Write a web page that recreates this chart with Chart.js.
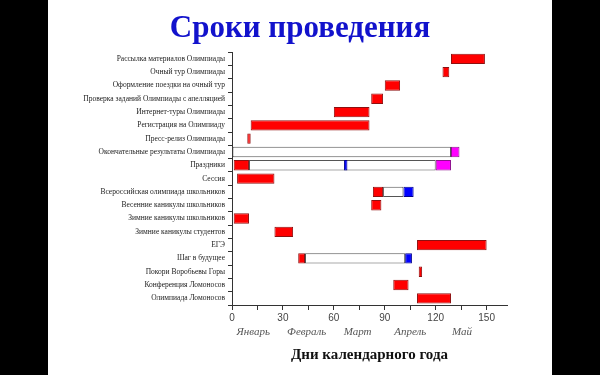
<!DOCTYPE html>
<html>
<head>
<meta charset="utf-8">
<script src="https://cdn.jsdelivr.net/npm/chart.js@4"></script>
<style>
  html, body { margin: 0; padding: 0; background: #000; }
  #slide { position: absolute; left: 48px; top: 0; width: 504px; height: 375px; background: #fff; }
</style>
</head>
<body>
<div id="slide"><canvas id="gantt" width="504" height="375"></canvas></div>
<script>
// Categories (top to bottom)
const categories = [
  'Рассылка материалов Олимпиады',
  'Очный тур Олимпиады',
  'Оформление поездки на очный тур',
  'Проверка заданий Олимпиады с апелляцией',
  'Интернет-туры Олимпиады',
  'Регистрация на Олимпиаду',
  'Пресс-релиз Олимпиады',
  'Окончательные результаты Олимпиады',
  'Праздники',
  'Сессия',
  'Всероссийская олимпиада школьников',
  'Весенние каникулы школьников',
  'Зимние каникулы школьников',
  'Зимние каникулы студентов',
  'ЕГЭ',
  'Шаг в будущее',
  'Покори Воробьевы Горы',
  'Конференция Ломоносов',
  'Олимпиада Ломоносов'
];

// [start day, end day] per category, null where no segment
const redBars = [
  [129, 149], [124, 128], [90, 99], [82, 89], [60, 81], [11, 81], [9, 11],
  null, [1, 10], [3, 25], [83, 89], [82, 88], [1, 10], [25, 36],
  [109, 150], [39, 43], [110, 112], [95, 104], [109, 129]
];
const whiteBars = [
  null, null, null, null, null, null, null,
  [0, 129], [10, 120], null, [89, 101], null, null, null,
  null, [43, 102], null, null, null
];
const blueBars = [
  null, null, null, null, null, null, null,
  null, [66, 68], null, [101, 107], null, null, null,
  null, [102, 106], null, null, null
];
const pinkBars = [
  null, null, null, null, null, null, null,
  [129, 134], [120, 129], null, null, null, null, null,
  null, null, null, null, null
];

// Axis labels
const dayTicks = [0, 30, 60, 90, 120, 150];
const months = ['Январь', 'Февраль', 'Март', 'Апрель', 'Май'];
const monthPos = [12.5, 44, 74, 105, 135.5];

const ctx = document.getElementById('gantt');

new Chart(ctx, {
  type: 'bar',
  data: {
    labels: categories,
    datasets: [
      { data: redBars, backgroundColor: '#ff0000', borderColor: '#8e1010', borderWidth: 1 },
      { data: blueBars, backgroundColor: '#0000ff', borderColor: '#00008e', borderWidth: 1 },
      { data: pinkBars, backgroundColor: '#ff00ff', borderColor: '#8e108e', borderWidth: 1 },
      { data: whiteBars, backgroundColor: '#ffffff', borderColor: '#555555', borderWidth: 1 }
    ]
  },
  options: {
    responsive: false,
    animation: false,
    indexAxis: 'y',
    datasets: { bar: { grouped: false, categoryPercentage: 1, barPercentage: 0.78, borderSkipped: false } },
    layout: { padding: 0 },
    plugins: {
      legend: { display: false },
      tooltip: { enabled: false },
      title: {
        display: true,
        text: 'Сроки проведения',
        color: '#1212cc',
        font: { family: 'Liberation Serif', size: 31, weight: 'bold' },
        padding: { top: 10, bottom: 5 }
      }
    },
    scales: {
      y: {
        grid: { drawOnChartArea: false, tickLength: 4, color: '#333' },
        border: { color: '#333' },
        ticks: { color: '#222', padding: 3, autoSkip: false, font: { family: 'Liberation Serif', size: 7.5 } },
        afterFit: s => { s.width = 184; }
      },
      // empty right-hand spacer so the plot ends before the slide edge
      yRight: {
        type: 'category',
        axis: 'y',
        position: 'right',
        grid: { display: false, drawTicks: false },
        border: { display: false },
        ticks: { display: false },
        afterFit: s => { s.width = 45; }
      },
      x: {
        type: 'linear',
        min: 0,
        max: 162,
        weight: 0,
        grid: { drawOnChartArea: false, tickLength: 5, color: '#333' },
        border: { color: '#333' },
        ticks: {
          stepSize: 15,
          includeBounds: false,
          padding: 2,
          color: '#444',
          font: { family: 'Liberation Sans', size: 10 },
          callback: v => dayTicks.includes(v) ? v : ''
        },
        afterFit: s => { s.height = 19; }
      },
      x2: {
        type: 'linear',
        position: 'bottom',
        axis: 'x',
        min: 0,
        max: 162,
        weight: 1,
        grid: { display: false, drawTicks: false },
        border: { display: false },
        afterBuildTicks: s => { s.ticks = monthPos.map(v => ({ value: v })); },
        ticks: {
          autoSkip: false,
          padding: 2,
          color: '#555',
          font: { family: 'Liberation Serif', size: 11, style: 'italic' },
          callback: (v, i) => months[i]
        },
        title: {
          display: true,
          text: 'Дни календарного года',
          color: '#111',
          font: { family: 'Liberation Serif', size: 15, weight: 'bold' },
          padding: { top: 0, bottom: 11 }
        },
        afterFit: s => { s.height = 51; }
      }
    }
  }
});
</script>
</body>
</html>
